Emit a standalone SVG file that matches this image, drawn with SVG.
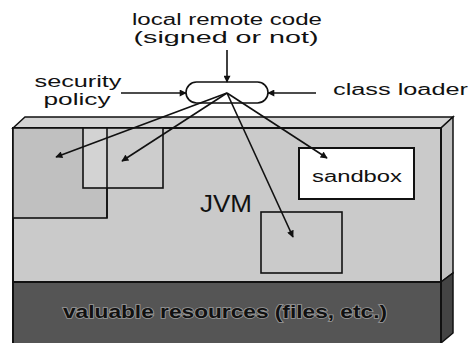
<svg xmlns="http://www.w3.org/2000/svg" width="471" height="343" viewBox="0 0 471 343">
  <style>
    .lbl { font-family: "Liberation Sans", Arial, sans-serif; font-size: 16px; fill: #111; }
    .edge { stroke: #111; stroke-width: 1.6; fill: none; }
    .box { stroke: #111; stroke-width: 1.6; fill: none; }
  </style>
  <defs>
    <marker id="arrow" viewBox="0 0 10 10" refX="9" refY="5" markerWidth="9" markerHeight="7" markerUnits="userSpaceOnUse" orient="auto">
      <path d="M0,0 L10,5 L0,10 z" fill="#111"/>
    </marker>
  </defs>

  <!-- JVM slab: top face, side face, front face -->
  <g id="jvm">
    <polygon points="13,128 25,117 453,117 441,128" fill="#d4d4d4" stroke="#111" stroke-width="1.5"/>
    <polygon points="441,128 453,117 453,273 441,282" fill="#c2c2c2" stroke="#111" stroke-width="1.5"/>
    <rect x="13" y="128" width="428" height="154" fill="#cacaca" stroke="#111" stroke-width="2"/>
    <text x="226" y="212" font-family="Liberation Sans, Arial, sans-serif" font-size="23" fill="#111" text-anchor="middle" textLength="52" lengthAdjust="spacingAndGlyphs">JVM</text>
  </g>

  <!-- valuable resources layer -->
  <g id="resources">
    <polygon points="441,282 453,273 453,333 441,343" fill="#444" stroke="#111" stroke-width="1.5"/>
    <rect x="13" y="282" width="428" height="62" fill="#555" stroke="#111" stroke-width="2"/>
    <text x="63" y="318" font-family="Liberation Sans, Arial, sans-serif" font-size="19" font-weight="bold" fill="#111" stroke="#999" stroke-width="1.6" paint-order="stroke" textLength="324" lengthAdjust="spacingAndGlyphs">valuable resources (files, etc.)</text>
  </g>

  <!-- protection domains inside the JVM -->
  <g id="domain-left">
    <rect x="13" y="128" width="94" height="90" fill="#c0c0c0" stroke="#111" stroke-width="1.6"/>
  </g>
  <g id="domain-mid">
    <rect x="83" y="128" width="80" height="60" fill="#cdcdcd" stroke="none"/>
    <rect x="83" y="128" width="24" height="60" fill="#d3d3d3" stroke="none"/>
    <rect x="83" y="128" width="80" height="60" class="box"/>
    <line x1="107" y1="128" x2="107" y2="218" stroke="#111" stroke-width="1.6"/>
  </g>
  <g id="sandbox">
    <rect x="299" y="148" width="115" height="51" fill="#fff" stroke="#111" stroke-width="2"/>
    <text class="lbl" x="357" y="182" font-size="19" text-anchor="middle" textLength="90" lengthAdjust="spacingAndGlyphs">sandbox</text>
  </g>
  <g id="domain-low">
    <rect x="261" y="212" width="81" height="61" fill="#cdcdcd" class="box"/>
  </g>

  <!-- code source and loader inputs -->
  <g id="code-source">
    <text class="lbl" x="227" y="25" text-anchor="middle" textLength="190" lengthAdjust="spacingAndGlyphs">local remote code</text>
    <text class="lbl" x="226" y="43" text-anchor="middle" textLength="185" lengthAdjust="spacingAndGlyphs">(signed or not)</text>
  </g>
  <g id="security-policy">
    <text class="lbl" x="78" y="87" text-anchor="middle" textLength="87" lengthAdjust="spacingAndGlyphs">security</text>
    <text class="lbl" x="77" y="105" text-anchor="middle" textLength="67" lengthAdjust="spacingAndGlyphs">policy</text>
  </g>
  <g id="class-loader">
    <text class="lbl" x="333" y="95" textLength="135" lengthAdjust="spacingAndGlyphs">class loader</text>
  </g>
  <g id="verifier">
    <rect x="186" y="82" width="82" height="21" rx="10.5" ry="10.5" fill="#fff" stroke="#111" stroke-width="1.6"/>
  </g>

  <!-- connectors -->
  <g id="connectors">
    <line class="edge" x1="227" y1="50" x2="227" y2="82" marker-end="url(#arrow)"/>
    <line class="edge" x1="121" y1="93" x2="186" y2="93" marker-end="url(#arrow)"/>
    <line class="edge" x1="316" y1="93" x2="268" y2="93" marker-end="url(#arrow)"/>
    <line class="edge" x1="227" y1="93" x2="56" y2="157" marker-end="url(#arrow)"/>
    <line class="edge" x1="227" y1="93" x2="122" y2="161" marker-end="url(#arrow)"/>
    <line class="edge" x1="227" y1="93" x2="327" y2="158" marker-end="url(#arrow)"/>
    <line class="edge" x1="227" y1="93" x2="293" y2="237" marker-end="url(#arrow)"/>
  </g>
</svg>
